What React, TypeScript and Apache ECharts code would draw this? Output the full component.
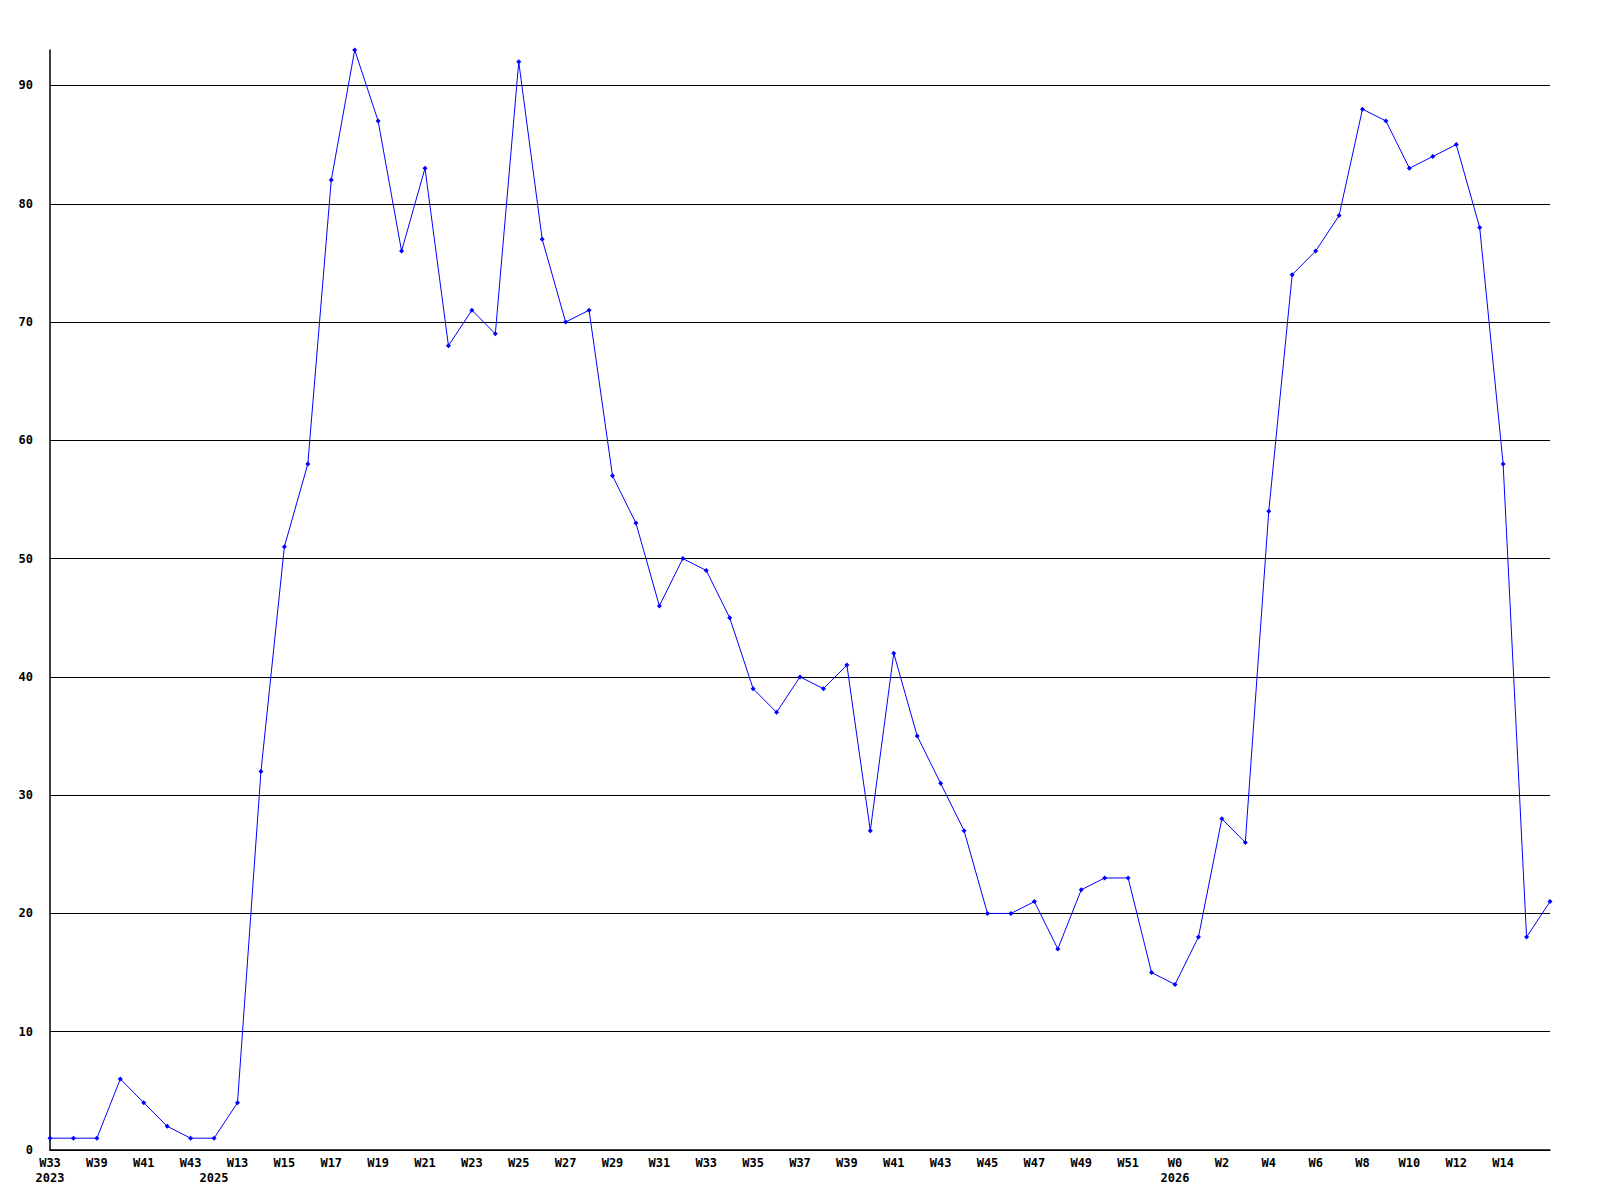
import React, { useEffect, useRef } from "react";
import * as echarts from "echarts";

const weeks: string[] = [
  "W33", "W38", "W39", "W40", "W41", "W42", "W43",
  "W12", "W13", "W14", "W15", "W16", "W17", "W18", "W19", "W20", "W21", "W22", "W23", "W24",
  "W25", "W26", "W27", "W28", "W29", "W30", "W31", "W32", "W33", "W34", "W35", "W36", "W37",
  "W38", "W39", "W40", "W41", "W42", "W43", "W44", "W45", "W46", "W47", "W48", "W49", "W50",
  "W51", "W52",
  "W0", "W1", "W2", "W3", "W4", "W5", "W6", "W7", "W8", "W9", "W10", "W11", "W12", "W13", "W14", "W15", "W16",
];

const yearMarks: Record<number, string> = { 0: "2023", 7: "2025", 48: "2026" };

const values: number[] = [
  1, 1, 1, 6, 4, 2, 1, 1,
  4, 32, 51, 58, 82, 93, 87, 76,
  83, 68, 71, 69, 92, 77, 70, 71,
  57, 53, 46, 50, 49, 45, 39, 37,
  40, 39, 41, 27, 42, 35, 31, 27,
  20, 20, 21, 17, 22, 23, 23, 15,
  14, 18, 28, 26, 54, 74, 76, 79,
  88, 87, 83, 84, 85, 78, 58, 18,
  21,
];

const FONT = "DejaVu Sans Mono";

export default function App() {
  const ref = useRef<HTMLDivElement>(null);
  useEffect(() => {
    if (!ref.current) return;
    const chart = echarts.init(ref.current, null, { renderer: "svg" });
    const last = weeks.length - 1;
    chart.setOption({
      animation: false,
      backgroundColor: "#ffffff",
      grid: { left: 50, right: 50, top: 50, bottom: 50, containLabel: false },
      xAxis: {
        type: "category",
        data: weeks,
        boundaryGap: false,
        axisLine: { show: true, lineStyle: { color: "#000", width: 1.5 } },
        axisTick: { show: false },
        splitLine: { show: false },
        axisLabel: {
          interval: 0,
          margin: 5,
          color: "#000",
          fontFamily: FONT,
          fontWeight: "bold",
          fontSize: 12,
          lineHeight: 15,
          formatter: (val: string, idx: number) => {
            const showWk = idx % 2 === 0 && idx !== last;
            const wk = showWk ? val : " ";
            const yr = yearMarks[idx];
            return yr ? wk + "\n" + yr : showWk ? wk : "";
          },
        },
      },
      yAxis: {
        type: "value",
        min: 0,
        max: 93,
        interval: 10,
        axisLine: { show: true, lineStyle: { color: "#000", width: 1.5 } },
        axisTick: { show: false },
        splitLine: { show: true, showMaxLine: false, lineStyle: { color: "#000", width: 1 } },
        axisLabel: {
          showMaxLabel: false,
          margin: 17,
          color: "#000",
          fontFamily: FONT,
          fontWeight: "bold",
          fontSize: 12,
        },
      },
      series: [
        {
          type: "line",
          data: values,
          symbol: "diamond",
          symbolSize: 5,
          showAllSymbol: true,
          lineStyle: { color: "#0000ff", width: 1 },
          itemStyle: { color: "#0000ff" },
        },
      ],
    });
    return () => chart.dispose();
  }, []);
  return (
    <div
      ref={ref}
      style={{ position: "absolute", left: 0, top: 0, width: 1600, height: 1200 }}
    />
  );
}
